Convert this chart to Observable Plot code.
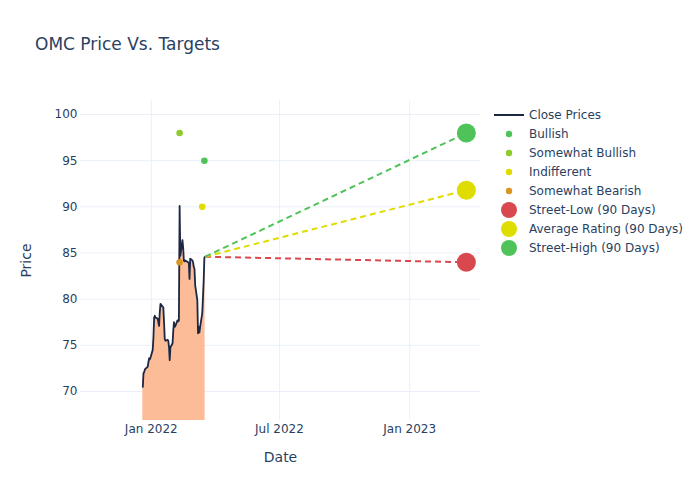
<!DOCTYPE html>
<html><head><meta charset="utf-8">
<script src="https://cdn.jsdelivr.net/npm/d3@7"></script>
<script src="https://cdn.jsdelivr.net/npm/@observablehq/plot@0.6"></script>
<style>
body{margin:0;background:#fff;font-family:"DejaVu Sans",sans-serif;}
#wrap{position:relative;width:700px;height:500px;}
#title{position:absolute;left:35px;top:34px;font-size:17px;color:#2a3f5f;white-space:nowrap;}
#legend{position:absolute;left:494px;top:105.5px;font-size:12px;color:#2a3f5f;}
.row{height:19px;display:flex;align-items:center;white-space:nowrap;}
.sym{width:30px;height:19px;display:flex;justify-content:center;align-items:center;margin-right:5px;}
#chart svg [aria-label$="axis label"]{font-size:14px;}
</style></head>
<body>
<div id="wrap"><div id="chart"></div><div id="title">OMC Price Vs. Targets</div><div id="legend"></div></div>
<script>
const priceDates = [
"2021-12-20","2021-12-21","2021-12-22","2021-12-23","2021-12-27","2021-12-28","2021-12-29","2021-12-30","2021-12-31",
"2022-01-03","2022-01-04","2022-01-05","2022-01-06","2022-01-07","2022-01-10","2022-01-11","2022-01-12","2022-01-13","2022-01-14",
"2022-01-18","2022-01-19","2022-01-20","2022-01-21","2022-01-24","2022-01-25","2022-01-26","2022-01-27","2022-01-28","2022-01-31",
"2022-02-01","2022-02-02","2022-02-03","2022-02-04","2022-02-07","2022-02-08","2022-02-09","2022-02-10","2022-02-11","2022-02-14",
"2022-02-15","2022-02-16","2022-02-17","2022-02-18","2022-02-22","2022-02-23","2022-02-24","2022-02-25","2022-02-28",
"2022-03-01","2022-03-02","2022-03-03","2022-03-04","2022-03-07","2022-03-08","2022-03-09","2022-03-10","2022-03-11",
"2022-03-14","2022-03-15","2022-03-16","2022-03-17","2022-03-18"];
const priceValues = [
70.5,72.0,72.1,72.4,72.7,73.2,73.6,73.5,73.7,
74.5,75.8,78.0,78.2,78.0,77.9,77.5,77.1,78.6,79.5,
79.1,77.5,75.7,75.5,75.6,75.5,74.8,73.4,74.8,75.2,
76.5,77.5,77.0,77.1,77.7,77.6,77.7,90.1,84.7,86.4,
85.6,84.2,84.1,84.2,84.0,83.9,82.2,84.4,84.2,
84.0,83.5,83.3,81.5,79.9,76.3,77.0,76.4,77.0,
78.5,80.2,82.0,84.5,84.6];

const analystNames = ["Bullish","Somewhat Bullish","Indifferent","Somewhat Bearish"];
const analystDates = ["2022-03-17","2022-02-10","2022-03-14","2022-02-10"];
const analystValues = [95,98,90,84];
const analystColors = ["#4fc35a","#8fcc2b","#e0dc00","#da9420"];

const targetNames = ["Street-Low (90 Days)","Average Rating (90 Days)","Street-High (90 Days)"];
const targetDate = "2023-03-22";
const targetValues = [84,91.8,98];
const targetColors = ["#d9484f","#dfdc00","#4fc35a"];

const yTicks = [70,75,80,85,90,95,100];
const xTickLabels = ["2022-01-01","2022-07-01","2023-01-01"];
const xDomain = ["2021-09-23","2023-04-11"];
const yDomain = [66.86,101.52];

const parse = d3.utcParse("%Y-%m-%d");
const price = priceDates.map((d,i)=>({date:parse(d), value:priceValues[i]}));
const last = price[price.length-1];
const targets = targetNames.map((n,i)=>({name:n, date:parse(targetDate), value:targetValues[i], color:targetColors[i], date0:last.date, value0:last.value}));
const analysts = analystNames.map((n,i)=>({name:n, date:parse(analystDates[i]), value:analystValues[i], color:analystColors[i]}));
const xTicks = xTickLabels.map(parse);

const chart = Plot.plot({
  width:700, height:500,
  marginLeft:80, marginRight:220, marginTop:100, marginBottom:80,
  style:{fontFamily:"DejaVu Sans, sans-serif", fontSize:"12px", color:"#2a3f5f", background:"white"},
  color:{type:"identity"},
  x:{type:"utc", domain:xDomain.map(parse), ticks:xTicks, tickFormat:d3.utcFormat("%b %Y"), tickSize:0, tickPadding:4, label:"Date", labelAnchor:"center", labelOffset:41, labelArrow:false},
  y:{domain:yDomain, ticks:yTicks, tickSize:0, tickPadding:3, label:"Price", labelAnchor:"center", labelOffset:59, labelArrow:false},
  marks:[
    Plot.gridY(yTicks,{stroke:"#ebf0f8", strokeOpacity:1}),
    Plot.gridX(xTicks,{stroke:"#ebf0f8", strokeOpacity:1}),
    Plot.areaY(price,{x:"date", y:"value", fill:"#fcbc98", clip:true}),
    Plot.lineY(price,{x:"date", y:"value", stroke:"#1c2744", strokeWidth:1.8}),
    Plot.link(targets,{x1:"date0", y1:"value0", x2:"date", y2:"value", stroke:"color", strokeDasharray:"6,4", strokeWidth:2}),
    Plot.dot(analysts,{x:"date", y:"value", fill:"color", r:3.3}),
    Plot.dot(targets,{x:"date", y:"value", fill:"color", r:9.5})
  ]
});
// strip any arrow glyphs from axis labels
chart.querySelectorAll('[aria-label$="axis label"] text').forEach(t=>{
  t.textContent = t.textContent.replace(/[↑↓←→]/g,"").trim();
});
document.getElementById("chart").appendChild(chart);

// legend
const leg = document.getElementById("legend");
function row(symHtml, label){
  const r = document.createElement("div"); r.className="row";
  r.innerHTML = `<div class="sym">${symHtml}</div><span>${label}</span>`;
  leg.appendChild(r);
}
row(`<svg width="30" height="4"><line x1="0" x2="30" y1="2" y2="2" stroke="#1c2744" stroke-width="2"/></svg>`, "Close Prices");
analystNames.forEach((n,i)=>row(`<svg width="8" height="8"><circle cx="4" cy="4" r="3.2" fill="${analystColors[i]}"/></svg>`, n));
targetNames.forEach((n,i)=>row(`<svg width="18" height="18"><circle cx="9" cy="9" r="8" fill="${targetColors[i]}"/></svg>`, n));
</script>
</body></html>
